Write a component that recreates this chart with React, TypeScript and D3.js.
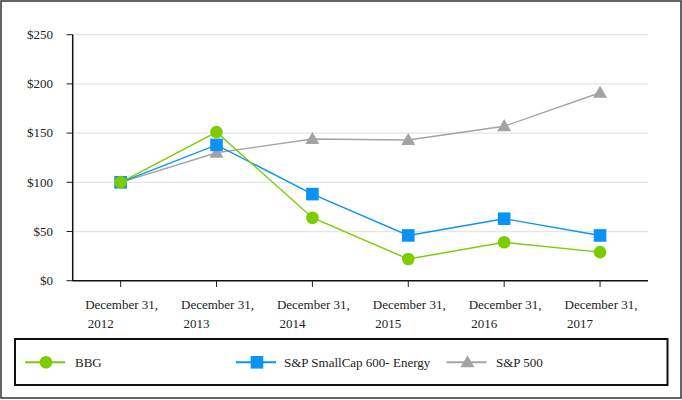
import React from "react";
import * as d3 from "d3";

const categories = ["December 31, 2012", "December 31, 2013", "December 31, 2014", "December 31, 2015", "December 31, 2016", "December 31, 2017"];
const tickLine1 = ["December 31,", "December 31,", "December 31,", "December 31,", "December 31,", "December 31,"];
const tickLine2 = ["2012", "2013", "2014", "2015", "2016", "2017"];
const bbg = [100, 151, 64, 22, 39, 29];
const smallCapEnergy = [100, 138, 88, 46, 63, 46];
const sp500 = [100, 130, 144, 143, 157, 191];
const yTicks = [0, 50, 100, 150, 200, 250];
const seriesNames = ["BBG", "S&P SmallCap 600- Energy", "S&P 500"];

const GREEN = "#7ccc00";
const BLUE = "#0a93f5";
const GRAY = "#a3a3a3";
const FONT = "Liberation Serif";

export default function App() {
  const x = d3.scalePoint<string>().domain(categories).range([72.7, 648]).padding(0.5);
  const y = d3.scaleLinear().domain([0, 250]).range([280.7, 34.7]);
  const line = d3
    .line<number>()
    .x((_, i) => x(categories[i]) as number)
    .y((d) => y(d));

  const tri = d3.symbol().type(d3.symbolTriangle).size(85)();

  const marker = (kind: string, cx: number, cy: number, key: string) => {
    if (kind === "circle") return <circle key={key} cx={cx} cy={cy} r={6.3} fill={GREEN} />;
    if (kind === "square") return <rect key={key} x={cx - 6.3} y={cy - 6.3} width={12.6} height={12.6} fill={BLUE} />;
    return <path key={key} d={tri as string} transform={`translate(${cx},${cy + 1})`} fill={GRAY} />;
  };

  const series = [
    { name: seriesNames[2], values: sp500, color: GRAY, kind: "triangle" },
    { name: seriesNames[1], values: smallCapEnergy, color: BLUE, kind: "square" },
    { name: seriesNames[0], values: bbg, color: GREEN, kind: "circle" },
  ];

  const legend = [
    { name: seriesNames[0], color: GREEN, kind: "circle", x0: 25, text: 75 },
    { name: seriesNames[1], color: BLUE, kind: "square", x0: 236, text: 284 },
    { name: seriesNames[2], color: GRAY, kind: "triangle", x0: 446.5, text: 496 },
  ];
  const ly = 362.3;

  return (
    <svg width={682} height={400} fontFamily={FONT} style={{ position: "absolute", left: 0, top: 0 }}>
      <rect x={0} y={0} width={682} height={400} fill="#fff" />
      <rect x={1} y={1} width={680} height={397} fill="none" stroke="#333" strokeWidth={1.5} />
      {yTicks.map((t) => (
        <g key={t}>
          {t > 0 && <line x1={72.7} x2={648} y1={y(t)} y2={y(t)} stroke="#e6e6e6" strokeWidth={1.3} />}
          <line x1={66.5} x2={72.7} y1={y(t)} y2={y(t)} stroke="#222" strokeWidth={1} />
          <text x={53} y={y(t)} dy="0.33em" textAnchor="end" fontSize={13} fill="#222" fontFamily={FONT}>
            {"$" + t}
          </text>
        </g>
      ))}
      <line x1={72.7} x2={72.7} y1={34.7} y2={281} stroke="#111" strokeWidth={1.5} />
      <line x1={72.7} x2={648} y1={280.7} y2={280.7} stroke="#111" strokeWidth={1.5} />
      {categories.map((c, i) => {
        const cx = x(c) as number;
        return (
          <g key={c}>
            <line x1={cx} x2={cx} y1={280.7} y2={287} stroke="#222" strokeWidth={1} />
            <text x={cx - 35.5} y={309} fontSize={13} fill="#222" fontFamily={FONT}>
              {tickLine1[i]}
            </text>
            <text x={cx - 33} y={328} fontSize={13} fill="#222" fontFamily={FONT}>
              {tickLine2[i]}
            </text>
          </g>
        );
      })}
      {series.map((s) => (
        <g key={s.name}>
          <path d={line(s.values) as string} fill="none" stroke={s.color} strokeWidth={1.4} />
          {s.values.map((v, i) => marker(s.kind, x(categories[i]) as number, y(v), s.name + i))}
        </g>
      ))}
      <rect x={15} y={339} width={652.5} height={46} fill="none" stroke="#111" strokeWidth={2} />
      {legend.map((l) => (
        <g key={l.name}>
          <line x1={l.x0} x2={l.x0 + 40} y1={ly} y2={ly} stroke={l.color} strokeWidth={2} />
          {marker(l.kind, l.x0 + 21, ly, "lg" + l.name)}
          <text x={l.text} y={ly} dy="0.35em" fontSize={13} fill="#222" fontFamily={FONT}>
            {l.name}
          </text>
        </g>
      ))}
    </svg>
  );
}
